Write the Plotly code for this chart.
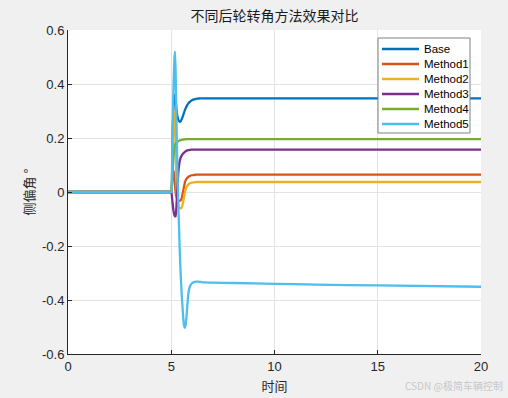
import plotly.graph_objects as go

# time samples (s)
t = [0, 2.5, 4.9, 4.95, 5.0, 5.05, 5.1, 5.15, 5.18, 5.21, 5.26, 5.3, 5.34, 5.38, 5.42, 5.46, 5.5, 5.54, 5.58,
     5.62, 5.66, 5.7, 5.75, 5.83, 5.9, 6.0, 6.1, 6.2, 6.3, 6.4, 6.6, 7.0, 8.0, 10.0, 12.0, 15.0, 20.0]

base    = [0, 0, 0, 0, 0, 0.15, 0.30, 0.355, 0.36, 0.34, 0.30, 0.28, 0.268, 0.262, 0.26, 0.262, 0.268, 0.276,
           0.285, 0.294, 0.303, 0.31, 0.318, 0.328, 0.334, 0.34, 0.343, 0.345, 0.346, 0.347, 0.347, 0.347,
           0.347, 0.347, 0.347, 0.347, 0.347]
method1 = [0, 0, 0, 0, 0, 0.04, 0.08, 0.06, 0.03, 0.0, -0.02, -0.028, -0.032, -0.033, -0.032, -0.03, -0.025,
           -0.012, 0.005, 0.02, 0.035, 0.044, 0.05, 0.056, 0.059, 0.062, 0.063, 0.064, 0.064, 0.064, 0.064,
           0.064, 0.064, 0.064, 0.064, 0.064, 0.064]
method2 = [0, 0, 0, 0, 0, 0.10, 0.25, 0.30, 0.27, 0.15, 0.02, -0.03, -0.05, -0.057, -0.06, -0.06, -0.058,
           -0.05, -0.035, -0.018, -0.002, 0.01, 0.02, 0.028, 0.032, 0.035, 0.036, 0.037, 0.037, 0.037, 0.037,
           0.037, 0.037, 0.037, 0.037, 0.037, 0.037]
method3 = [0, 0, 0, 0, 0, -0.03, -0.065, -0.085, -0.09, -0.09, -0.04, 0.02, 0.07, 0.1, 0.118, 0.128, 0.134,
           0.139, 0.143, 0.146, 0.149, 0.151, 0.153, 0.155, 0.156, 0.157, 0.157, 0.157, 0.157, 0.157, 0.157,
           0.157, 0.157, 0.157, 0.157, 0.157, 0.157]
method4 = [0, 0, 0, 0, 0, 0.06, 0.12, 0.16, 0.175, 0.18, 0.184, 0.186, 0.188, 0.19, 0.191, 0.192, 0.193,
           0.194, 0.194, 0.195, 0.195, 0.195, 0.196, 0.196, 0.196, 0.196, 0.196, 0.196, 0.196, 0.196, 0.196,
           0.196, 0.196, 0.196, 0.196, 0.196, 0.196]
method5 = [0, 0, 0, 0, 0, 0.17, 0.36, 0.49, 0.52, 0.45, 0.23, 0.08, -0.04, -0.14, -0.235, -0.31, -0.37,
           -0.42, -0.465, -0.495, -0.503, -0.49, -0.45, -0.375, -0.35, -0.338, -0.334, -0.332, -0.332, -0.333,
           -0.335, -0.336, -0.337, -0.340, -0.343, -0.346, -0.351]

names = ["Base", "Method1", "Method2", "Method3", "Method4", "Method5"]
series = [base, method1, method2, method3, method4, method5]
colors = ["#0072BD", "#D95319", "#EDB120", "#7E2F8E", "#77AC30", "#4DBEEE"]

x_ticks = [0, 5, 10, 15, 20]
y_ticks = [-0.6, -0.4, -0.2, 0, 0.2, 0.4, 0.6]
y_tick_text = ["-0.6", "-0.4", "-0.2", "0", "0.2", "0.4", "0.6"]

W, H = 508, 398
ML, MR, MT, MB = 68, 27, 30, 44
PW, PH = W - ML - MR, H - MT - MB


def px(xp):
    return (xp - ML) / PW


def py(yp):
    return (H - MB - yp) / PH


fig = go.Figure()
for n, s, c in zip(names, series, colors):
    fig.add_trace(go.Scatter(x=t, y=s, mode="lines", name=n,
                             line=dict(color=c, width=2.3, shape="spline", smoothing=0.5)))

axis_common = dict(showgrid=True, gridcolor="#e3e3e3", gridwidth=1, zeroline=False,
                   showline=True, linecolor="#262626", linewidth=1, ticks="inside", ticklen=4,
                   tickcolor="#262626", tickfont=dict(family="Liberation Sans, Arial", size=13, color="#262626"),
                   mirror=False, automargin=False)

fig.update_layout(
    width=W, height=H,
    margin=dict(l=ML, r=MR, t=MT, b=MB, autoexpand=False),
    paper_bgcolor="#f0f0f0", plot_bgcolor="white",
    title=dict(text="不同后轮转角方法效果对比", x=(ML + PW / 2) / W, xanchor="center", y=1 - 16 / H,
               yanchor="middle", font=dict(family="Noto Sans CJK SC", size=14, color="#1a1a1a")),
    xaxis=dict(range=[0, 20], tickvals=x_ticks, ticktext=[str(v) for v in x_ticks],
               title=dict(text="时间", font=dict(family="Noto Sans CJK SC", size=13, color="#262626"),
                          standoff=9), **axis_common),
    yaxis=dict(range=[-0.6, 0.6], tickvals=y_ticks, ticktext=y_tick_text,
               title=dict(text="侧偏角 °", font=dict(family="Noto Sans CJK SC", size=13, color="#262626"),
                          standoff=4), **axis_common),
    showlegend=False,
)

# legend box drawn manually (MATLAB-style compact legend)
shapes = [dict(type="rect", xref="paper", yref="paper", x0=px(378), x1=px(470), y0=py(133), y1=py(38),
               fillcolor="white", line=dict(color="#808080", width=1), layer="above")]
annotations = []
for i, (n, c) in enumerate(zip(names, colors)):
    yc = 49 + 15 * i
    shapes.append(dict(type="line", xref="paper", yref="paper", x0=px(382), x1=px(419), y0=py(yc), y1=py(yc),
                       line=dict(color=c, width=2.3), layer="above"))
    annotations.append(dict(text=n, xref="paper", yref="paper", x=px(421.5), y=py(yc), xanchor="left",
                            yanchor="middle", showarrow=False,
                            font=dict(family="Liberation Sans, Arial", size=11.5, color="#000000")))

annotations.append(dict(text="CSDN @极简车辆控制", xref="paper", yref="paper", x=px(505), y=py(385),
                        xanchor="right", yanchor="middle", showarrow=False,
                        font=dict(family="Noto Sans CJK SC", size=10, color="#c8c8c8")))

fig.update_layout(shapes=shapes, annotations=annotations)

fig.write_html("out.html")
